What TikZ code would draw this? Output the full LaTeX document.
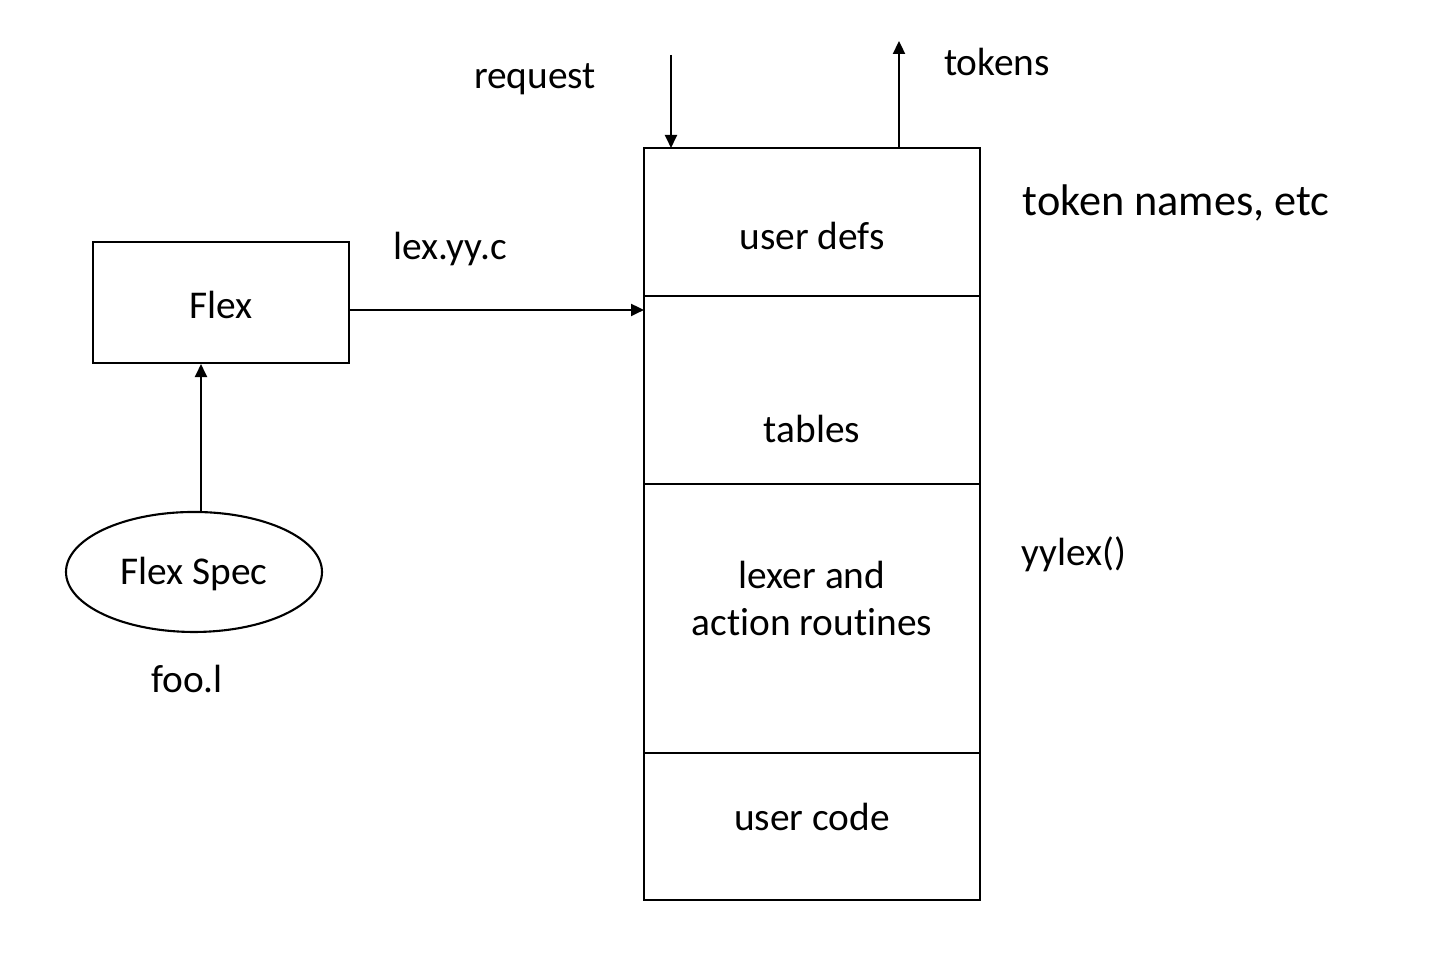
\documentclass[tikz,border=0pt]{standalone}
\usepackage{fontspec}
\setmainfont{Carlito}[Ligatures=NoCommon]
\usepackage{tikz}
\usetikzlibrary{shapes,arrows.meta,positioning,calc}

\begin{document}
\begin{tikzpicture}[>={Triangle[length=1.3mm,width=1.2mm]},
    line width=0.6pt,
    txt/.style={font=\fontsize{11.2}{13.6}\selectfont, inner sep=0pt},
    bigtxt/.style={font=\fontsize{12.6}{15}\selectfont, inner sep=0pt},
    part/.style={draw, minimum width=3.36cm, inner sep=0pt, outer sep=0pt}]
\useasboundingbox (0,0) rectangle (14.34,9.54);
% generator side
\node[draw, minimum width=2.56cm, minimum height=1.21cm] (flex) at (2.21,6.515) {};
\node[txt] (flexlbl) at (2.21,6.49) {Flex};
\node[draw, ellipse, minimum width=2.56cm, minimum height=1.20cm, inner sep=0pt] (spec) at (1.94,3.82) {};
\node[txt] (speclbl) at (1.94,3.80) {Flex Spec};
\node[txt] (fool) at (1.87,2.75) {foo.l};
% the generated scanner
\node[part, minimum height=1.48cm] (udefs) at (8.12,7.32) {};
\node[part, minimum height=1.88cm, below=0pt of udefs] (tables) {};
\node[part, minimum height=2.69cm, below=0pt of tables] (lexer) {};
\node[part, minimum height=1.47cm, below=0pt of lexer] (ucode) {};
\node[txt] (udefslbl) at ([yshift=-1.4mm]udefs.center) {user defs};
\node[txt] (tableslbl) at ([yshift=-3.9mm]tables.center) {tables};
\node[txt, align=center] (lexerlbl) at ([yshift=2mm]lexer.center) {lexer and\\action routines};
\node[txt] (ucodelbl) at ([yshift=0.9mm]ucode.center) {user code};
% labels
\node[txt] (lexyy) at (4.50,7.05) {lex.yy.c};
\node[txt] (req) at (5.35,8.75) {request};
\node[txt] (tok) at (9.97,8.92) {tokens};
\node[bigtxt] (tnames) at (11.76,7.51) {token names, etc};
\node[txt] (yylex) at (10.74,4.00) {yylex()};
\coordinate (reqtop) at (6.71,8.99);
\coordinate (toktop) at (8.99,9.13);
% connections
\draw[->] ([xshift=0.7mm]spec.north) -- ([xshift=0.7mm]spec.north |- flex.south);
\draw[->] ([yshift=-0.75mm]flex.east) -- ([yshift=-0.75mm]flex.east -| udefs.west);
\draw[->] (reqtop) -- (reqtop |- udefs.north);
\draw[->] (toktop |- udefs.north) -- (toktop);
\end{tikzpicture}
\end{document}
